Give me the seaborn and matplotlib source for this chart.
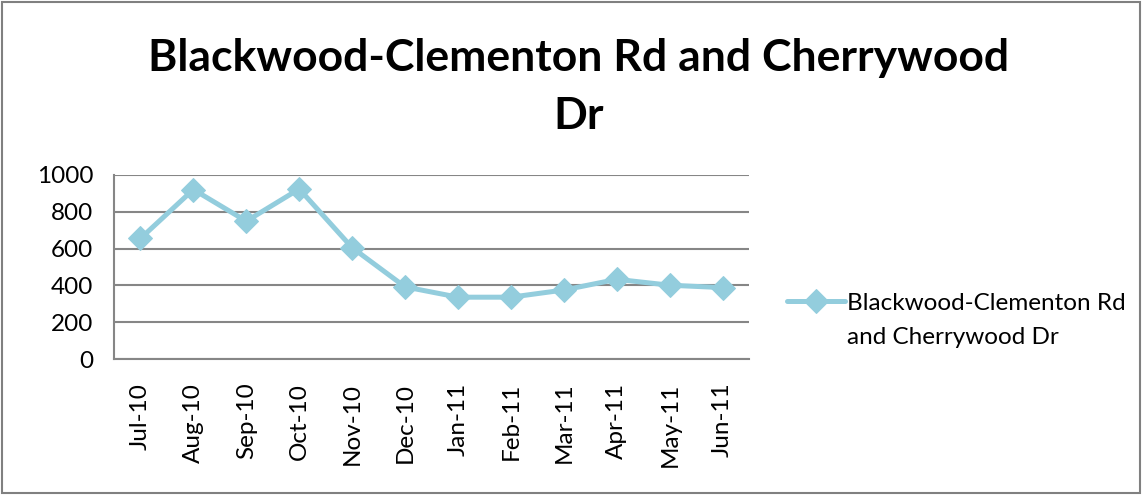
import numpy as np
import pandas as pd
import seaborn as sns
import matplotlib.pyplot as plt
from matplotlib.patches import Rectangle

# Monthly values
months = ["Jul-10", "Aug-10", "Sep-10", "Oct-10", "Nov-10", "Dec-10",
          "Jan-11", "Feb-11", "Mar-11", "Apr-11", "May-11", "Jun-11"]
counts = [655, 921, 749, 924, 605, 392, 336, 336, 375, 433, 401, 388]
title_lines = ["Blackwood-Clementon Rd and Cherrywood", "Dr"]
legend_lines = ["Blackwood-Clementon Rd", "and Cherrywood Dr"]
y_ticks = [0, 200, 400, 600, 800, 1000]

df = pd.DataFrame({"month": months, "count": counts, "pos": np.arange(len(months))})

sns.set_style("white")
plt.rcParams["font.family"] = ["Lato", "DejaVu Sans"]
plt.rcParams["text.color"] = "black"
plt.rcParams["xtick.labelcolor"] = "black"
plt.rcParams["ytick.labelcolor"] = "black"

fig = plt.figure(figsize=(11.42, 4.95), dpi=100)
ax = fig.add_axes([0.0998, 0.2747, 0.5562, 0.3718])

line_color = "#93CDDD"
grid_color = "#868686"

sns.lineplot(data=df, x="pos", y="count", ax=ax, color=line_color, linewidth=3.6,
             marker="D", markersize=12, markeredgecolor=line_color,
             label=legend_lines[0])

ax.set_xlim(-0.5, len(months) - 0.5)
ax.set_ylim(0, 1000)
ax.set_yticks(y_ticks)
ax.set_yticklabels([str(v) for v in y_ticks], fontsize=17.5)
ax.set_xticks(df["pos"])
ax.set_xticklabels(months, rotation=90, fontsize=17.5)
ax.set_xticks(np.arange(-0.5, len(months)), minor=True)
ax.tick_params(axis="x", which="major", length=0, pad=17)
ax.tick_params(axis="x", which="minor", length=7, width=1.5, color=grid_color, direction="out")
ax.tick_params(axis="y", length=7, width=1.5, color=grid_color, direction="out", pad=8)
ax.set_xlabel("")
ax.set_ylabel("")

ax.yaxis.grid(True, color=grid_color, linewidth=1.5)
ax.set_axisbelow(True)
for side in ["top", "right"]:
    ax.spines[side].set_visible(False)
for side in ["left", "bottom"]:
    ax.spines[side].set_color(grid_color)
    ax.spines[side].set_linewidth(1.5)

leg = ax.legend(loc="center left", bbox_to_anchor=(1.04, 0.304), frameon=False,
                fontsize=17.5, handlelength=2.4, handletextpad=0.1, borderpad=0)
# second line of the legend label, under the first
fig.text(847 / 1142, 1 - 338 / 495, legend_lines[1], ha="left", va="center", fontsize=17.5)

fig.text(0.507, 1 - 58 / 495, title_lines[0], ha="center", va="center",
         fontsize=32, fontweight="bold")
fig.text(0.507, 1 - 116 / 495, title_lines[1], ha="center", va="center",
         fontsize=32, fontweight="bold")

fig.patches.append(Rectangle((0.002, 0.004), 0.996, 0.992, transform=fig.transFigure,
                             fill=False, edgecolor="#808080", linewidth=1.5))

fig.savefig("out.png", dpi=100)
